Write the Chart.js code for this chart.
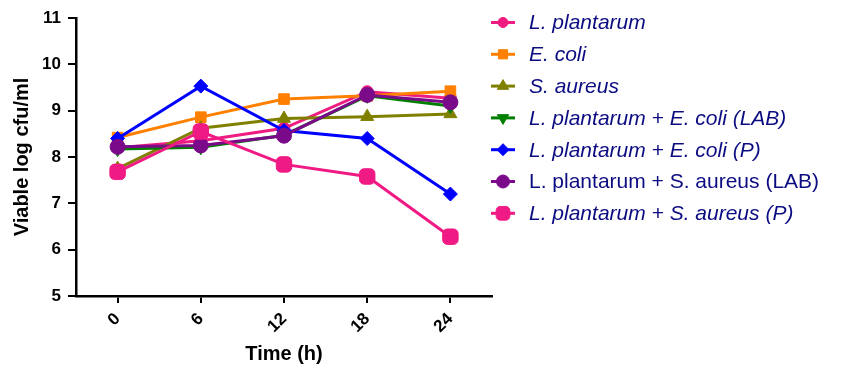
<!DOCTYPE html>
<html>
<head>
<meta charset="utf-8">
<script src="https://cdn.jsdelivr.net/npm/chart.js@4.4.1/dist/chart.umd.min.js"></script>
<style>
  body { margin: 0; background: #fff; }
  .chart-container { width: 854px; height: 366px; }
</style>
</head>
<body>
<div class="chart-container"><canvas id="growthChart"></canvas></div>
<script>
// sampling times (h) and tick values
const times = [0, 6, 12, 18, 24];
const xTicks = [0, 6, 12, 18, 24];
const yTicks = [5, 6, 7, 8, 9, 10, 11];

// viable counts, log cfu/ml
const lPlantarum = [8.20, 8.35, 8.62, 9.41, 9.27];
const eColi = [8.42, 8.86, 9.25, 9.32, 9.42];
const sAureus = [7.75, 8.62, 8.83, 8.87, 8.93];
const lpEcoliLab = [8.17, 8.21, 8.47, 9.32, 9.10];
const lpEcoliP = [8.40, 9.53, 8.57, 8.40, 7.20];
const lpSaureusLab = [8.22, 8.25, 8.46, 9.34, 9.18];
const lpSaureusP = [7.68, 8.55, 7.84, 7.58, 6.28];

const seriesNames = [
  'L. plantarum',
  'E. coli',
  'S. aureus',
  'L. plantarum + E. coli (LAB)',
  'L. plantarum + E. coli (P)',
  'L. plantarum + S. aureus (LAB)',
  'L. plantarum + S. aureus (P)'
];
const seriesValues = [lPlantarum, eColi, sAureus, lpEcoliLab, lpEcoliP, lpSaureusLab, lpSaureusP];
const seriesColors = ['#EE1C80', '#FF8000', '#808000', '#008000', '#0000FF', '#7A0A8A', '#F01A84'];
const seriesMarkers = ['circle', 'rect', 'triangle', 'triangle', 'rectRot', 'circle', 'rectRounded'];
const markerRotation = [0, 0, 0, 180, 0, 0, 0];
const markerRadius = [6, 7.5, 7.5, 7.5, 7, 7.5, 9];
const italicLabel = [true, true, true, true, true, false, true];

const datasets = seriesNames.map((name, i) => ({
  label: name,
  data: times.map((t, j) => ({ x: t, y: seriesValues[i][j] })),
  borderColor: seriesColors[i],
  backgroundColor: seriesColors[i],
  borderWidth: 3,
  pointStyle: seriesMarkers[i],
  pointRotation: markerRotation[i],
  pointRadius: markerRadius[i],
  pointBorderWidth: 1,
  order: seriesNames.length - i, // later series drawn on top
  tension: 0
}));

// legend drawn by hand: line through marker, one entry non-italic
const sideLegend = {
  id: 'sideLegend',
  afterDraw(chart) {
    const ctx = chart.ctx;
    ctx.save();
    seriesNames.forEach((name, i) => {
      const y = 22.5 + i * 31.8;
      ctx.strokeStyle = seriesColors[i];
      ctx.fillStyle = seriesColors[i];
      ctx.lineWidth = 3;
      ctx.beginPath();
      ctx.moveTo(491, y);
      ctx.lineTo(515, y);
      ctx.stroke();
      ctx.lineWidth = 1;
      Chart.helpers.drawPoint(ctx, {
        pointStyle: seriesMarkers[i],
        rotation: markerRotation[i],
        radius: markerRadius[i] - 1,
        borderWidth: 1
      }, 503, y);
      ctx.fillStyle = '#0C0C82';
      ctx.font = (italicLabel[i] ? 'italic ' : '') + '21px "Liberation Sans", Arial, sans-serif';
      ctx.textBaseline = 'middle';
      ctx.fillText(name, 529, y + 1);
    });
    ctx.restore();
  }
};

const tickFont = { family: '"Liberation Sans", Arial, sans-serif', size: 17, weight: 'bold' };
const titleFont = { family: '"Liberation Sans", Arial, sans-serif', size: 20, weight: 'bold' };

new Chart(document.getElementById('growthChart'), {
  type: 'line',
  data: { datasets: datasets },
  plugins: [sideLegend],
  options: {
    responsive: true,
    maintainAspectRatio: false,
    animation: false,
    layout: { padding: { left: 6, top: 18, right: 362, bottom: 0 } },
    plugins: {
      legend: { display: false },
      tooltip: { enabled: false }
    },
    scales: {
      x: {
        type: 'linear',
        min: -3,
        max: 27,
        afterBuildTicks: scale => { scale.ticks = xTicks.map(v => ({ value: v })); },
        afterFit: scale => { scale.height = 70; },
        ticks: { color: '#000', font: tickFont, minRotation: 45, maxRotation: 45, padding: 6 },
        grid: { display: true, drawOnChartArea: false, drawTicks: true, tickLength: 7, color: '#000', lineWidth: 2 },
        border: { display: true, color: '#000', width: 2.5 },
        title: { display: true, text: 'Time (h)', color: '#000', font: titleFont, padding: { top: 0, bottom: 0 } }
      },
      y: {
        min: 5,
        max: 11,
        afterBuildTicks: scale => { scale.ticks = yTicks.map(v => ({ value: v })); },
        afterFit: scale => { scale.width = 70; },
        ticks: { color: '#000', font: tickFont, padding: 7 },
        grid: { display: true, drawOnChartArea: false, drawTicks: true, tickLength: 8, color: '#000', lineWidth: 2 },
        border: { display: true, color: '#000', width: 2.5 },
        title: { display: true, text: 'Viable log cfu/ml', color: '#000', font: titleFont, padding: { top: 4, bottom: 4 } }
      }
    }
  }
});
</script>
</body>
</html>
